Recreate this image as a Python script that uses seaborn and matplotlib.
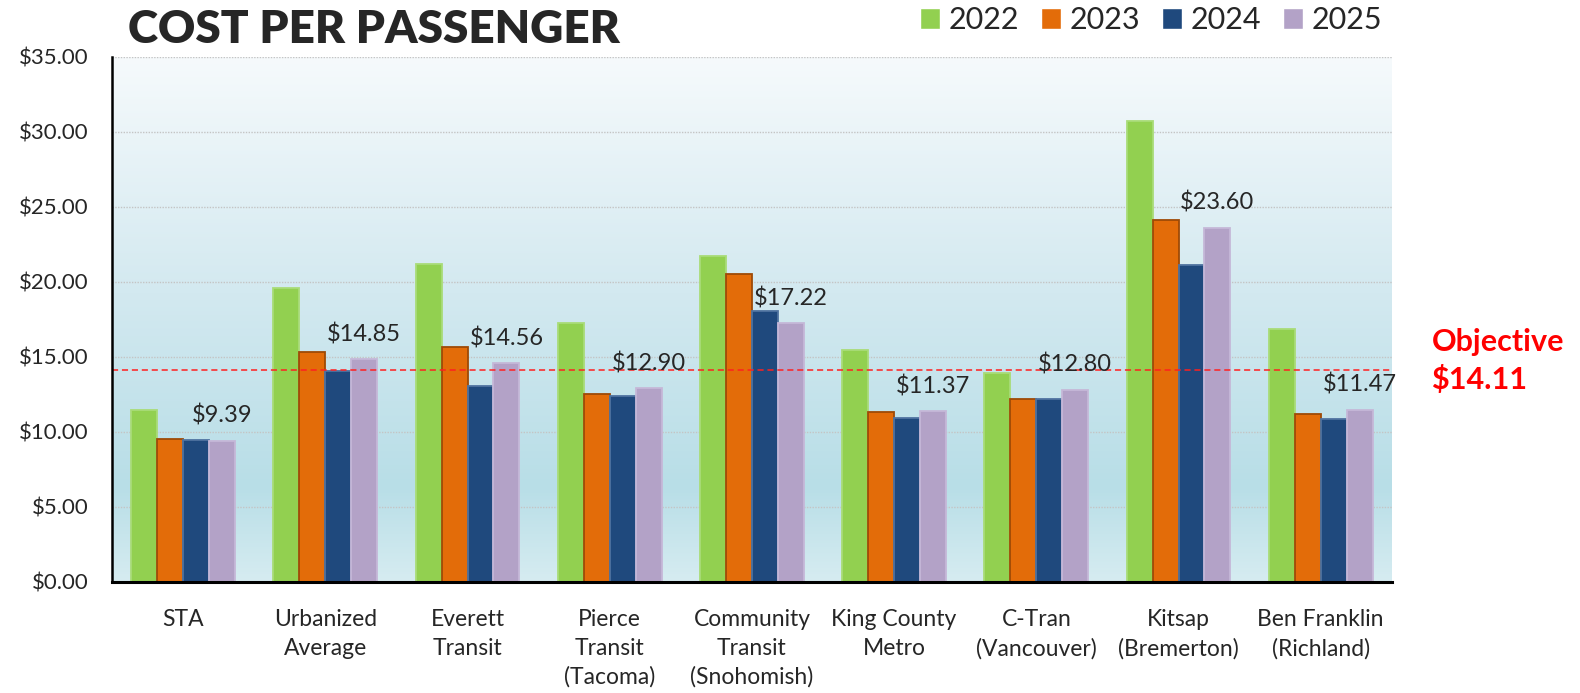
import numpy as np
import pandas as pd
import matplotlib
matplotlib.use("Agg")
import matplotlib.pyplot as plt
from matplotlib.colors import LinearSegmentedColormap
import seaborn as sns

# Chart data
agencies = ["STA", "Urbanized\nAverage", "Everett\nTransit", "Pierce\nTransit\n(Tacoma)",
            "Community\nTransit\n(Snohomish)", "King County\nMetro", "C-Tran\n(Vancouver)",
            "Kitsap\n(Bremerton)", "Ben Franklin\n(Richland)"]
years = ["2022", "2023", "2024", "2025"]
cost_2022 = [11.45, 19.56, 21.18, 17.27, 21.71, 15.45, 13.93, 30.71, 16.83]
cost_2023 = [9.50, 15.33, 15.63, 12.49, 20.53, 11.29, 12.16, 24.09, 11.18]
cost_2024 = [9.45, 14.05, 13.05, 12.40, 18.03, 10.93, 12.15, 21.09, 10.85]
cost_2025 = [9.39, 14.85, 14.56, 12.90, 17.22, 11.37, 12.80, 23.60, 11.47]
objective = 14.11
yticks = [0, 5, 10, 15, 20, 25, 30, 35]

bar_colors = ["#92d050", "#e36c09", "#1f497d", "#b3a2c7"]
edge_colors = ["#a9dc78", "#9e4a06", "#4f73a0", "#c5b8d8"]

# long table for seaborn
df = pd.DataFrame({
    "agency": agencies * 4,
    "year": [y for y in years for _ in agencies],
    "cost": cost_2022 + cost_2023 + cost_2024 + cost_2025,
})

sns.set_style("white")
plt.rcParams["font.family"] = ["Lato", "DejaVu Sans"]

fig = plt.figure(figsize=(15.8, 6.93), dpi=100)
ax = fig.add_axes([0.0709, 0.1606, 0.810, 0.7576])

# gradient plot background
grad = LinearSegmentedColormap.from_list(
    "bg", [(0.0, "#d6ecf1"), (0.18, "#b8dee7"), (0.55, "#d3e9f0"), (1.0, "#f6fafc")])
ax.imshow(np.linspace(0, 1, 256).reshape(-1, 1), cmap=grad, origin="lower",
          extent=[-0.5, len(agencies) - 0.5, 0, 35], aspect="auto", zorder=0)

sns.barplot(data=df, x="agency", y="cost", hue="year", palette=bar_colors,
            width=0.73, gap=0, saturation=1, ax=ax, zorder=3)

for cont, ec in zip(ax.containers, edge_colors):
    for bar in cont:
        bar.set_edgecolor(ec)
        bar.set_linewidth(1.3)

# value labels over the 2025 bars
for bar, v in zip(ax.containers[3], cost_2025):
    ax.annotate(f"${v:.2f}", (bar.get_x() + bar.get_width() / 2, v),
                xytext=(0, 10), textcoords="offset points",
                ha="center", va="bottom", fontsize=17, zorder=5)

# objective line
ax.axhline(objective, color="#ff2020", lw=1.1, ls=(0, (4, 2.5)), zorder=4)
fig.text(0.906, 0.479, f"Objective\n${objective:.2f}", color="#ff0000",
         fontsize=22, fontweight="bold", ha="left", va="center", linespacing=1.35)

ax.set_xlim(-0.5, len(agencies) - 0.5)
ax.set_ylim(0, 35)
ax.set_yticks(yticks)
ax.set_yticklabels([f"${t:.2f}" for t in yticks], fontsize=16)
ax.tick_params(axis="x", labelsize=16.5, length=0, pad=20)
ax.tick_params(axis="y", length=0, pad=17)
for lab in ax.get_xticklabels():
    lab.set_linespacing(1.42)
ax.set_xlabel("")
ax.set_ylabel("")
ax.grid(axis="y", color="#c4c4c4", ls=(0, (1, 1)), lw=1, zorder=1)
ax.set_axisbelow(False)
for gl in ax.get_ygridlines():
    gl.set_zorder(1)

for side in ["top", "right"]:
    ax.spines[side].set_visible(False)
ax.spines["left"].set_color("black")
ax.spines["left"].set_linewidth(1.8)
ax.spines["bottom"].set_color("black")
ax.spines["bottom"].set_linewidth(2.2)
ax.spines["left"].set_zorder(6)
ax.spines["bottom"].set_zorder(6)

# legend at top right
handles, labels = ax.get_legend_handles_labels()
ax.get_legend().remove()
fig.legend(handles, labels, loc="center right", bbox_to_anchor=(0.875, 0.971),
           ncol=4, frameon=False, fontsize=22, handlelength=0.65, handleheight=0.65,
           handletextpad=0.3, columnspacing=0.7, borderaxespad=0, borderpad=0)

fig.text(0.081, 0.957, "COST PER PASSENGER", fontsize=33, fontweight="heavy",
         ha="left", va="center")

fig.savefig("out.png", dpi=100)
